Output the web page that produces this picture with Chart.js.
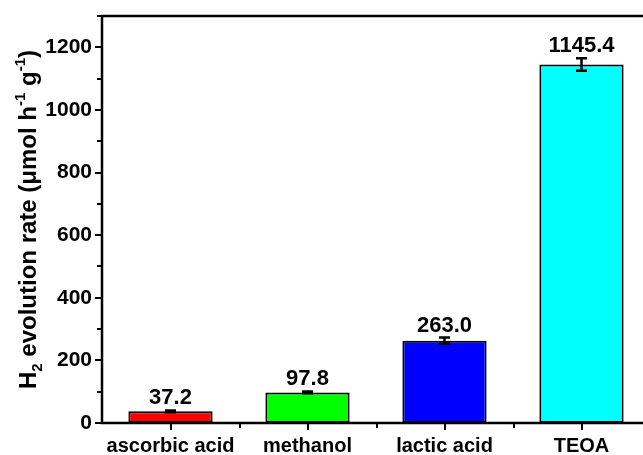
<!DOCTYPE html>
<html>
<head>
<meta charset="utf-8">
<script src="https://cdn.jsdelivr.net/npm/chart.js@4"></script>
<style>
    html, body { margin: 0; padding: 0; background: #fff; overflow: hidden; }
    #wrap { position: absolute; left: 0; top: 0; width: 660px; height: 455px; }
</style>
</head>
<body>
<div id="wrap"><canvas id="chartH2" width="660" height="455"></canvas></div>
<script>
// ===========================
// DATOS
// ===========================
const categories = ['ascorbic acid', 'methanol', 'lactic acid', 'TEOA'];
const rates = [37.2, 97.8, 263.0, 1145.4];
const rateErrors = [3, 3, 10, 20];
const yTickValues = [0, 200, 400, 600, 800, 1000, 1200];

const barColors = ['#ff0000', '#00ff00', '#0000ff', '#00ffff'];
const FONT = '"Liberation Sans", Arial, sans-serif';

// ===========================
// PLUGIN: MARCO Y TICKS
// ===========================
const framePlugin = {
    id: 'frame',
    afterDraw(chart) {
        const { ctx, chartArea: a, scales } = chart;
        const x = scales.x, y = scales.y;
        ctx.save();
        ctx.strokeStyle = '#000';
        ctx.lineWidth = 2.5;
        ctx.lineCap = 'square';
        ctx.strokeRect(a.left, a.top, a.right - a.left, a.bottom - a.top);

        ctx.lineWidth = 2;
        ctx.lineCap = 'butt';
        // ticks eje Y
        for (let v = 0; v <= 1300; v += 100) {
            const py = Math.round(y.getPixelForValue(v));
            const len = v % 200 === 0 ? 7 : 5;
            ctx.beginPath();
            ctx.moveTo(a.left, py);
            ctx.lineTo(a.left - len, py);
            ctx.stroke();
        }
        // ticks eje X (centros y separaciones)
        for (let i = 0; i < categories.length; i++) {
            const px = Math.round(x.getPixelForValue(i));
            ctx.beginPath();
            ctx.moveTo(px, a.bottom);
            ctx.lineTo(px, a.bottom + 7);
            ctx.stroke();
            const bx = Math.round(px + (x.getPixelForValue(1) - x.getPixelForValue(0)) / 2);
            ctx.beginPath();
            ctx.moveTo(bx, a.bottom);
            ctx.lineTo(bx, a.bottom + 5);
            ctx.stroke();
        }
        ctx.restore();
    }
};

// ===========================
// PLUGIN: BARRAS DE ERROR Y VALORES
// ===========================
const errorLabelPlugin = {
    id: 'errorLabels',
    afterDatasetsDraw(chart) {
        const { ctx, scales } = chart;
        const meta = chart.getDatasetMeta(0);
        ctx.save();
        ctx.strokeStyle = '#000';
        ctx.lineWidth = 2.5;
        meta.data.forEach((bar, i) => {
            const cx = bar.x;
            const yHi = scales.y.getPixelForValue(rates[i] + rateErrors[i]);
            const yLo = scales.y.getPixelForValue(rates[i] - rateErrors[i]);
            ctx.beginPath();
            ctx.moveTo(cx, yHi);
            ctx.lineTo(cx, yLo);
            ctx.moveTo(cx - 5.5, yHi);
            ctx.lineTo(cx + 5.5, yHi);
            ctx.moveTo(cx - 5.5, yLo);
            ctx.lineTo(cx + 5.5, yLo);
            ctx.stroke();

            ctx.fillStyle = '#000';
            ctx.font = 'bold 22px ' + FONT;
            ctx.textAlign = 'center';
            ctx.textBaseline = 'alphabetic';
            ctx.fillText(rates[i].toFixed(1), cx, Math.min(yHi, bar.y) - 6);
        });
        ctx.restore();
    }
};

// ===========================
// PLUGIN: TÍTULO EJE Y (con sub/superíndices)
// ===========================
const yTitlePlugin = {
    id: 'yTitle',
    afterDraw(chart) {
        const { ctx, chartArea: a } = chart;
        const main = 'bold 24px ' + FONT;
        const small = 'bold 15px ' + FONT;
        const parts = [
            { t: 'H', f: main, dy: 0 },
            { t: '2', f: small, dy: 6 },
            { t: ' evolution rate (μmol h', f: main, dy: 0 },
            { t: '-1', f: small, dy: -11 },
            { t: ' g', f: main, dy: 0 },
            { t: '-1', f: small, dy: -11 },
            { t: ')', f: main, dy: 0 }
        ];
        ctx.save();
        let total = 0;
        parts.forEach(p => { ctx.font = p.f; p.w = ctx.measureText(p.t).width; total += p.w; });
        ctx.translate(36, (a.top + a.bottom) / 2);
        ctx.rotate(-Math.PI / 2);
        ctx.fillStyle = '#000';
        ctx.textAlign = 'left';
        ctx.textBaseline = 'alphabetic';
        let cx = -total / 2;
        parts.forEach(p => {
            ctx.font = p.f;
            ctx.fillText(p.t, cx, p.dy);
            cx += p.w;
        });
        ctx.restore();
    }
};

// ===========================
// GRÁFICO
// ===========================
const ctx = document.getElementById('chartH2');

new Chart(ctx, {
    type: 'bar',
    data: {
        labels: categories,
        datasets: [{
            data: rates,
            backgroundColor: barColors,
            borderColor: '#000',
            borderWidth: 2,
            borderSkipped: false,
            categoryPercentage: 1,
            barPercentage: 0.615
        }]
    },
    options: {
        responsive: false,
        animation: false,
        layout: {
            padding: { left: 0, top: 16, right: 10, bottom: 0 }
        },
        plugins: {
            legend: { display: false },
            tooltip: { enabled: false }
        },
        scales: {
            x: {
                grid: { display: false, drawTicks: false },
                border: { display: false },
                ticks: {
                    color: '#000',
                    font: { family: FONT, size: 20, weight: 'bold' },
                    padding: 11,
                    maxRotation: 0,
                    autoSkip: false
                },
                afterFit(scale) {
                    scale.height = 32;
                    scale.paddingLeft = 0;
                    scale.paddingRight = 0;
                }
            },
            y: {
                min: 0,
                max: 1300,
                grid: { display: false, drawTicks: false },
                border: { display: false },
                afterBuildTicks(scale) {
                    scale.ticks = yTickValues.map(v => ({ value: v }));
                },
                ticks: {
                    color: '#000',
                    font: { family: FONT, size: 21, weight: 'bold' },
                    padding: 10,
                    callback: value => String(value)
                },
                afterFit(scale) {
                    scale.width = 102;
                    scale.paddingTop = 0;
                    scale.paddingBottom = 0;
                }
            }
        }
    },
    plugins: [framePlugin, errorLabelPlugin, yTitlePlugin]
});
</script>
</body>
</html>
